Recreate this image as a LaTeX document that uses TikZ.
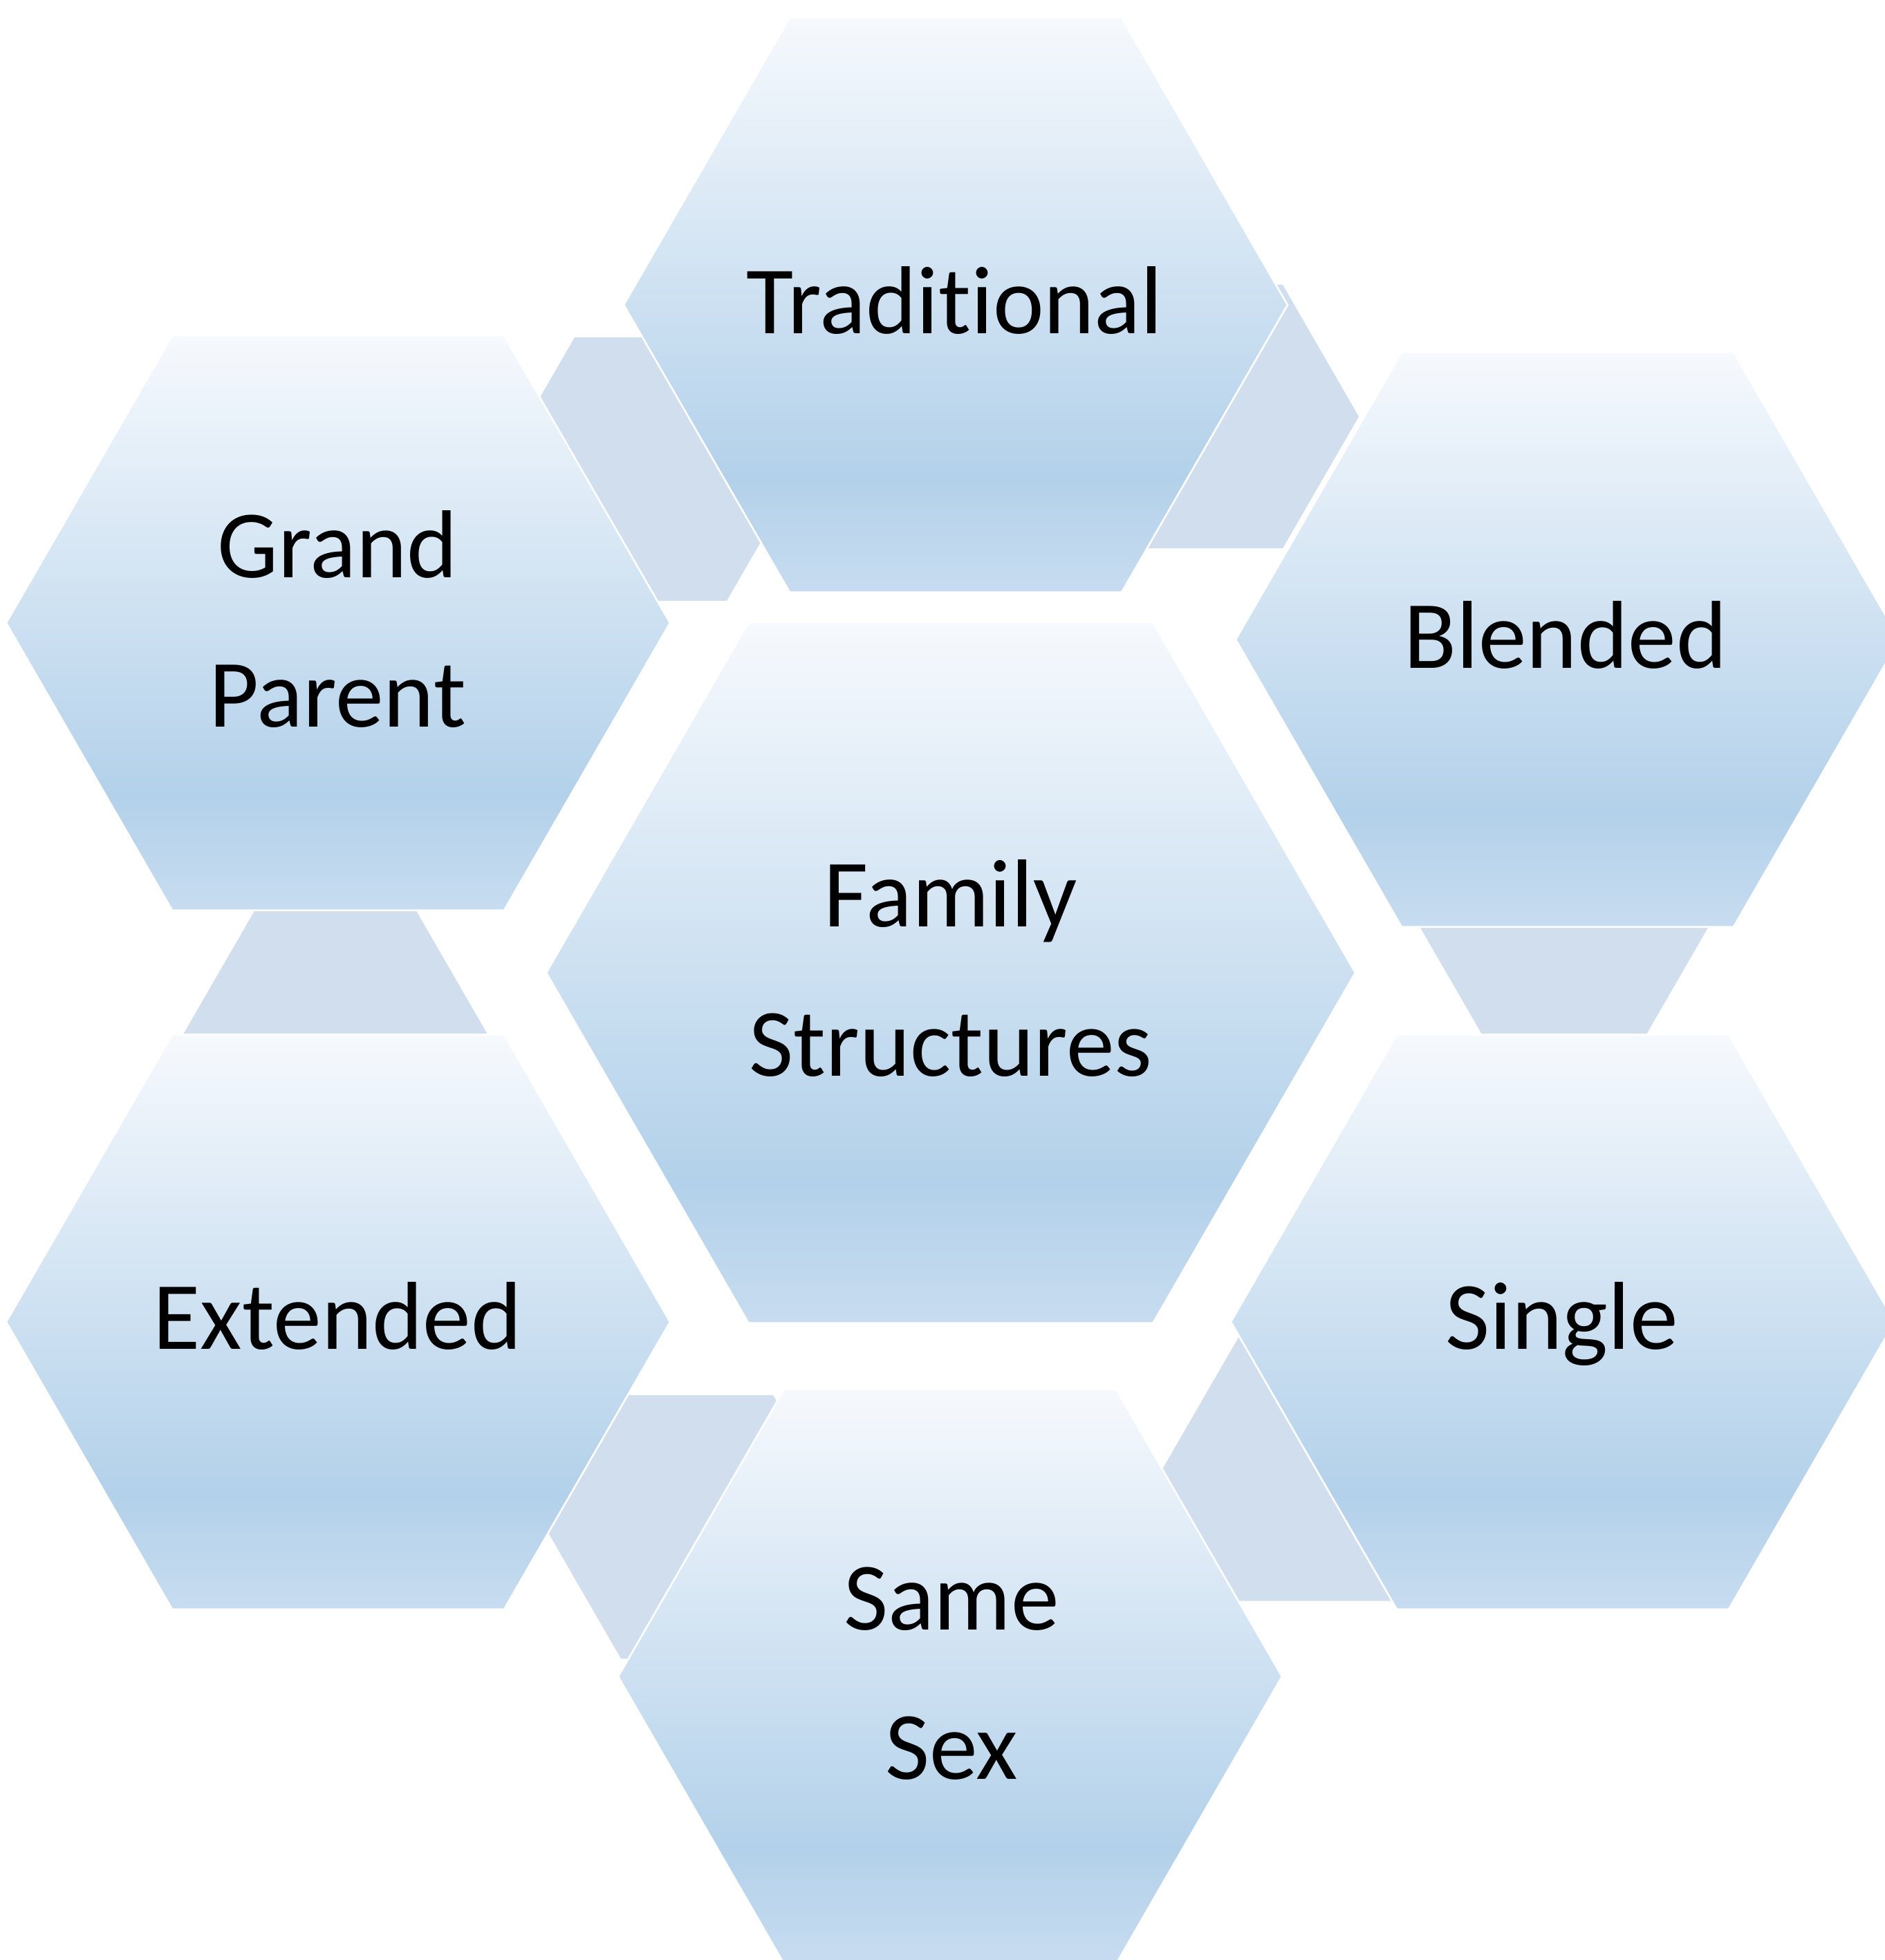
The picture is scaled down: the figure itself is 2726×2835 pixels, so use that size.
\documentclass[tikz,border=0pt]{standalone}
\usepackage{fontspec}
\setmainfont{Carlito}[Ligatures={NoCommon}]
\definecolor{hextop}{RGB}{246,249,253}
\definecolor{hexdark}{RGB}{179,209,234}
\definecolor{hexbot}{RGB}{199,220,240}
\definecolor{linkfill}{RGB}{209,222,238}
\pgfdeclareverticalshading{hexgrad}{100bp}{color(0bp)=(hexbot); color(25bp)=(hexbot); color(35bp)=(hexdark); color(75bp)=(hextop); color(100bp)=(hextop)}
\newcommand\hexshape[4]{\path[#1] (#2,#3) ++(-#4,0) -- ++(0.5*#4,-0.8660254*#4) -- ++(#4,0) -- ++(0.5*#4,0.8660254*#4) -- ++(-0.5*#4,0.8660254*#4) -- ++(-#4,0) -- cycle;}
\tikzset{
  mainhex/.style={shading=hexgrad, draw=white, line width=0.75pt},
  linkhex/.style={fill=linkfill},
  lbl/.style={font=\fontsize{39.7}{61.5}\selectfont, anchor=base, inner sep=0pt, text=black}
}
\begin{document}
\begin{tikzpicture}[x=0.01cm, y=-0.01cm]
\useasboundingbox (0,0) rectangle (2726,2835);
\fill[white] (0,0) rectangle (2726,2835);
\clip (0,0) rectangle (2726,2835);
% connector hexagons (behind)
\hexshape{linkhex}{941}{678.5}{220}
\hexshape{linkhex}{1745}{602.5}{220}
\hexshape{linkhex}{2262}{1321}{220}
\hexshape{linkhex}{1901}{2125}{220}
\hexshape{linkhex}{1008}{2208.5}{220}
\hexshape{linkhex}{485}{1496}{220}
% main hexagons
\hexshape{mainhex}{1375}{1407}{585}
\hexshape{mainhex}{1382}{441}{480}
\hexshape{mainhex}{489}{901}{480}
\hexshape{mainhex}{2267}{925}{480}
\hexshape{mainhex}{2260}{1912}{480}
\hexshape{mainhex}{489}{1912}{480}
\hexshape{mainhex}{1374}{2425}{480}
% labels
\node[lbl] (center) at (1375,1340) {\begin{tabular}[t]{@{}c@{}}Family\\Structures\end{tabular}};
\node[lbl] (trad) at (1381,482) {Traditional};
\node[lbl] (gp) at (488,835) {\begin{tabular}[t]{@{}c@{}}Grand\\Parent\end{tabular}};
\node[lbl] (blend) at (2264,966) {Blended};
\node[lbl] (single) at (2259,1951) {Single};
\node[lbl] (ext) at (488,1951) {Extended};
\node[lbl] (same) at (1376,2357) {\begin{tabular}[t]{@{}c@{}}Same\\Sex\end{tabular}};
\end{tikzpicture}
\end{document}
